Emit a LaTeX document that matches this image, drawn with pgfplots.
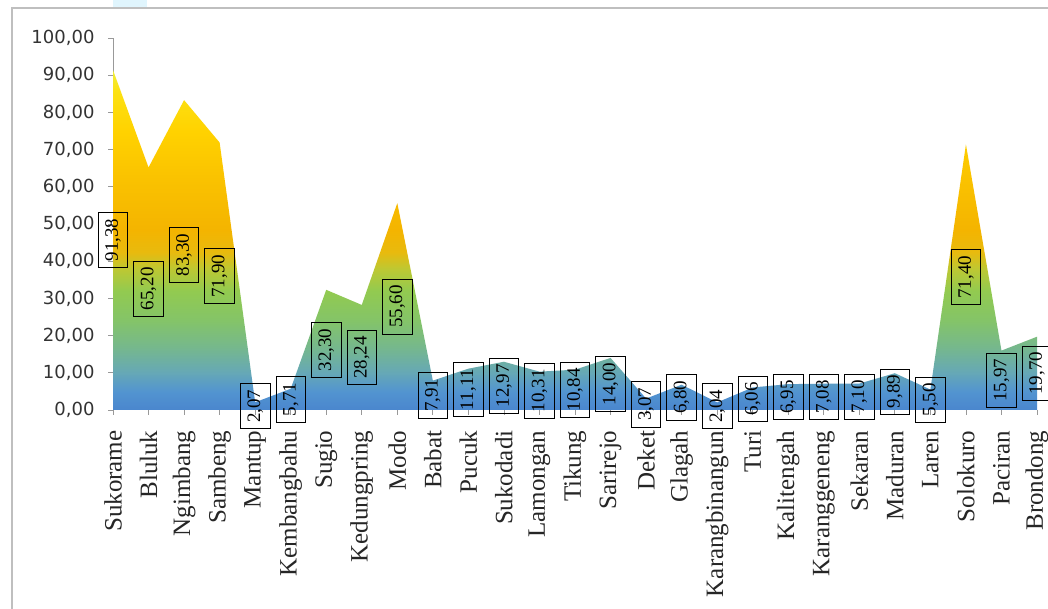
\documentclass[border=0pt]{standalone}
\usepackage{pgfplots}
\pgfplotsset{compat=1.18}
\usepackage{pgfplotstable}
\usepackage{fontspec}
\setmainfont{Liberation Serif}
\newfontfamily\numfont{DejaVu Sans}

% vertical gradient of the area: blue at the base, green, gold, yellow at the top
\definecolor{g0}{RGB}{74,134,206}
\definecolor{g1}{RGB}{82,148,208}
\definecolor{g2}{RGB}{102,168,182}
\definecolor{g3}{RGB}{118,184,140}
\definecolor{g4}{RGB}{132,196,104}
\definecolor{g5}{RGB}{146,202,80}
\definecolor{g6}{RGB}{190,200,50}
\definecolor{g7}{RGB}{232,186,14}
\definecolor{g8}{RGB}{244,180,0}
\definecolor{g9}{RGB}{250,194,0}
\definecolor{g10}{RGB}{255,210,0}
\definecolor{g11}{RGB}{252,226,20}
\definecolor{g12}{RGB}{238,238,60}
\pgfdeclareverticalshading{areagrad}{100bp}{%
  color(0bp)=(g0); color(25bp)=(g0); color(27.7bp)=(g1); color(30.5bp)=(g2);
  color(34.3bp)=(g3); color(38.2bp)=(g4); color(42.5bp)=(g5); color(45.8bp)=(g6);
  color(48.2bp)=(g7); color(51.5bp)=(g8); color(58.9bp)=(g9); color(66bp)=(g10);
  color(72.1bp)=(g11); color(75bp)=(g12); color(100bp)=(g12)}

% value per kecamatan, in category order
\pgfplotstableread{
i v
0 91.38
1 65.20
2 83.30
3 71.90
4 2.07
5 5.71
6 32.30
7 28.24
8 55.60
9 7.91
10 11.11
11 12.97
12 10.31
13 10.84
14 14.00
15 3.07
16 6.80
17 2.04
18 6.06
19 6.95
20 7.08
21 7.10
22 9.89
23 5.50
24 71.40
25 15.97
26 19.70
}\volumes

\begin{document}
\begin{tikzpicture}
\path[use as bounding box] (0,0) rectangle (1048pt,609pt);
\fill[white] (0,0) rectangle (1048pt,609pt);
\draw[black!25, line width=1.2pt] (12pt,-2pt) -- (12pt,601pt) -- (1052pt,601pt);
\fill[cyan!12] (113pt,601.6pt) rectangle (147pt,610pt);
\begin{axis}[
  at={(113pt,199pt)}, anchor=south west,
  scale only axis, width=924pt, height=372pt,
  xmin=0, xmax=26, ymin=0, ymax=100,
  axis lines=left,
  axis line style={-, draw=black!40, line width=1pt},
  xtick={0,...,26},
  xticklabels={Sukorame,Bluluk,Ngimbang,Sambeng,Mantup,Kembangbahu,Sugio,Kedungpring,Modo,Babat,Pucuk,Sukodadi,Lamongan,Tikung,Sarirejo,Deket,Glagah,Karangbinangun,Turi,Kalitengah,Karanggeneng,Sekaran,Maduran,Laren,Solokuro,Paciran,Brondong},
  ytick={0,10,...,100},
  tick align=outside, major tick length=5pt,
  tick style={black!40, line width=0.8pt},
  xticklabel shift=12pt,
  yticklabel shift=10pt,
  x tick label style={rotate=90, anchor=east, font=\fontsize{25}{25}\selectfont, text=black!85},
  y tick label style={font=\numfont\fontsize{18}{18}\selectfont, text=black!80,
    /pgf/number format/.cd, fixed, fixed zerofill, precision=2, use comma, assume math mode=true},
  scaled y ticks=false,
  clip=false,
]
\addplot[draw=none, no marks, shading=areagrad] table[x=i, y=v]{\volumes} \closedcycle;
\addplot[draw=none, no marks, point meta=explicit,
  nodes near coords={\pgfmathprintnumber[fixed, fixed zerofill, precision=2, use comma, assume math mode=true]{\pgfplotspointmeta}},
  nodes near coords align=center,
  every node near coord/.append style={anchor=center, rotate=90, draw=black, line width=0.8pt,
    inner xsep=6pt, inner ysep=7pt, font=\fontsize{19}{19}\selectfont, text=black}]
  table[x=i, y expr=\thisrow{v}/2, meta=v]{\volumes};
\end{axis}
\end{tikzpicture}
\end{document}
